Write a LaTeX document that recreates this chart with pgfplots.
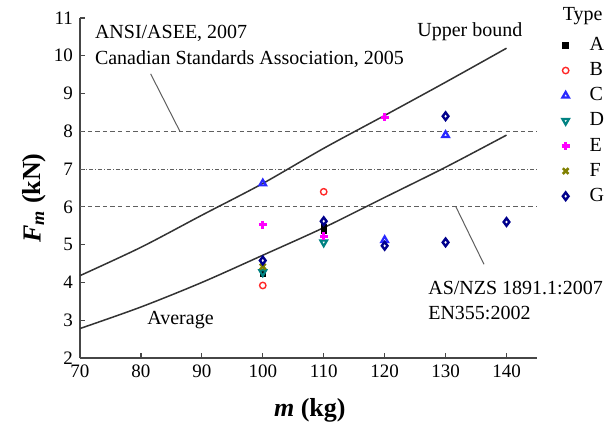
\documentclass[border=0pt]{standalone}
\usepackage{fontspec}
\setmainfont{Liberation Serif}
\usepackage{pgfplots}
\pgfplotsset{compat=1.18}
\definecolor{axgray}{RGB}{70,70,70}
\definecolor{lngray}{RGB}{95,95,95}
\definecolor{cred}{RGB}{255,40,40}
\definecolor{cblue}{RGB}{40,40,255}
\definecolor{cteal}{RGB}{0,130,130}
\definecolor{cmag}{RGB}{255,0,255}
\definecolor{colive}{RGB}{128,128,0}
\definecolor{cnavy}{RGB}{0,0,140}
\begin{document}
\begin{tikzpicture}
\begin{axis}[
  scale only axis, width=228.5pt, height=170pt,
  xmin=70, xmax=145, ymin=2, ymax=11,
  xtick={70,80,...,140}, ytick={2,3,...,11},
  axis x line*=bottom, axis y line*=left,
  axis line style={-, axgray, line width=0.7pt},
  tick align=inside, major tick length=2.5pt,
  tick style={axgray, line width=0.6pt},
  ticklabel style={font=\fontsize{9.5}{11}\selectfont},
  /pgf/number format/assume math mode=true,
  xlabel={\textbf{\textit{m} (kg)}},
  xlabel style={font=\fontsize{13}{15}\selectfont, at={(rel axis cs:0.503,-0.155)}, anchor=center},
  ylabel={\textbf{\textit{F}\textsubscript{\textit{m}} (kN)}},
  ylabel style={font=\fontsize{13}{15}\selectfont, at={(rel axis cs:-0.1,0.47)}, anchor=center},
  clip=false,
  legend style={draw=none, fill=none, at={(rel axis cs:1.04,0.968)}, anchor=north west,
    font=\fontsize{10}{12}\selectfont, row sep=0.5pt, column sep=8pt},
  legend cell align=left,
]
% reference lines
\addplot[lngray, line width=0.6pt, dash pattern=on 2.2pt off 1.6pt, forget plot] coordinates {(70,8) (145,8)};
\addplot[lngray, line width=0.6pt, dash pattern=on 2.2pt off 1.6pt, forget plot] coordinates {(70,6) (145,6)};
\addplot[lngray, line width=0.6pt, dash pattern=on 2.2pt off 0.9pt on 0.5pt off 0.9pt, forget plot] coordinates {(70,7) (145,7)};
% bounds
\addplot[black!80, line width=0.75pt, smooth, forget plot] coordinates {
  (70,4.18) (80,4.93) (90,5.78) (100,6.62) (110,7.55) (120,8.42) (130,9.3) (140,10.2)};
\addplot[black!80, line width=0.75pt, smooth, forget plot] coordinates {
  (70,2.78) (80,3.35) (90,4.0) (100,4.72) (110,5.45) (120,6.25) (130,7.05) (140,7.9)};
% pointer lines
\addplot[lngray, line width=0.5pt, forget plot] coordinates {(86.4,8) (81.6,9.52)};
\addplot[lngray, line width=0.5pt, forget plot] coordinates {(131.7,6) (136.3,4.48)};
% data
\addplot[only marks, mark=square*, mark size=1.4pt, black] coordinates {(100,4.23) (110,5.45) (110,5.36)};
\addlegendentry{A}
\addplot[only marks, mark=o, mark size=1.6pt, cred, line width=0.7pt] coordinates {(100,3.92) (110,6.4)};
\addlegendentry{B}
\addplot[only marks, mark=triangle, mark size=1.9pt, cblue, line width=1.1pt] coordinates {(100,6.62) (120,5.12) (130,7.9)};
\addlegendentry{C}
\addplot[only marks, mark=triangle, mark options={rotate=180}, mark size=1.9pt, cteal, line width=1.1pt] coordinates {(100,4.27) (110,5.06)};
\addlegendentry{D}
\addplot[only marks, mark=+, mark size=2pt, cmag, line width=1.6pt] coordinates {(100,5.53) (110,5.22) (120,8.37)};
\addlegendentry{E}
\addplot[only marks, mark=x, mark size=2pt, colive, line width=1.3pt] coordinates {(100,4.42)};
\addlegendentry{F}
\addplot[only marks, mark=diamond, mark size=1.9pt, cnavy, line width=1.2pt] coordinates {(100,4.58) (110,5.62) (120,4.97) (130,8.4) (130,5.06) (140,5.6)};
\addlegendentry{G}
% annotations
\node[anchor=west, font=\fontsize{10}{12}\selectfont, inner sep=0pt] at (axis cs:72.4,10.6) {ANSI/ASEE, 2007};
\node[anchor=west, font=\fontsize{10}{12}\selectfont, inner sep=0pt] at (axis cs:72.4,9.91) {Canadian Standards Association, 2005};
\node[anchor=west, font=\fontsize{10}{12}\selectfont, inner sep=0pt] at (axis cs:125.3,10.63) {Upper bound};
\node[anchor=west, font=\fontsize{10}{12}\selectfont, inner sep=0pt] at (axis cs:81.0,3.0) {Average};
\node[anchor=west, font=\fontsize{10}{12}\selectfont, inner sep=0pt] at (axis cs:127.1,3.86) {AS/NZS 1891.1:2007};
\node[anchor=west, font=\fontsize{10}{12}\selectfont, inner sep=0pt] at (axis cs:127.1,3.2) {EN355:2002};
\node[anchor=center, font=\fontsize{10}{12}\selectfont, inner sep=0pt] at (rel axis cs:1.1,1.005) {Type};
\coordinate (bl) at (rel axis cs:-0.175,-0.2088);
\coordinate (tr) at (rel axis cs:1.1554,1.0529);
\end{axis}
\pgfresetboundingbox
\useasboundingbox (bl) rectangle (tr);
\end{tikzpicture}
\end{document}
